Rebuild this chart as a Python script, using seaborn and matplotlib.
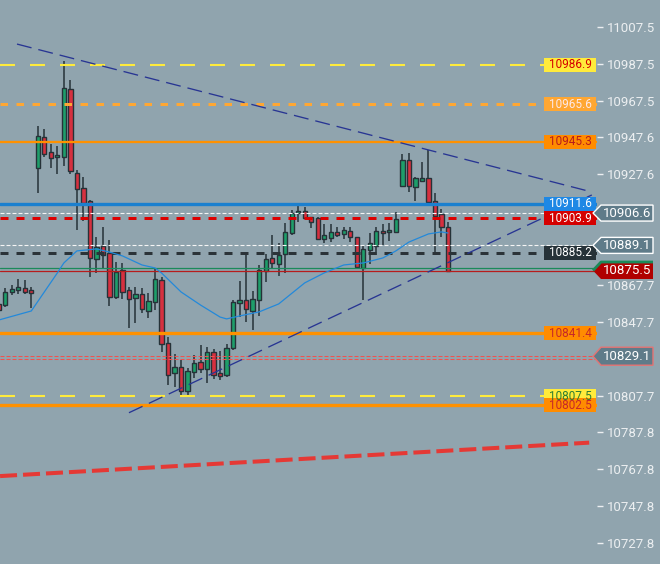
import matplotlib
matplotlib.use("Agg")
import matplotlib.pyplot as plt
from matplotlib.patches import Polygon, Rectangle
import numpy as np
import pandas as pd
import seaborn as sns

# candles, index -1 is the one cut off at the left edge
candle_idx = list(range(-1, 69))
opens = [10857.4, 10856.8, 10864.0, 10865.1, 10865.9, 10864.8, 10931.2, 10947.6, 10939.8, 10936.8,
         10936.8, 10973.6, 10928.1, 10920.0, 10913.1, 10881.6, 10888.6, 10884.8, 10861.3, 10875.8,
         10864.8, 10860.5, 10862.6, 10853.4, 10858.3, 10870.4, 10836.1, 10819.9, 10823.4, 10810.1,
         10820.4, 10825.8, 10822.0, 10831.6, 10819.9, 10818.8, 10833.4, 10857.8, 10859.4, 10853.8,
         10859.4, 10875.2, 10882.1, 10879.2, 10884.3, 10895.7, 10906.5, 10907.7, 10904.3, 10904.1,
         10892.7, 10893.3, 10896.2, 10895.4, 10896.7, 10893.5, 10877.1, 10886.6, 10888.6, 10896.9,
         10896.2, 10896.5, 10921.4, 10935.3, 10920.6, 10924.1, 10925.4, 10913.1, 10906.0, 10898.9]
highs = [10858.5, 10866.0, 10867.7, 10870.9, 10870.4, 10866.4, 10953.7, 10952.1, 10943.8, 10942.8,
         10988.9, 10978.7, 10929.8, 10926.1, 10913.7, 10893.7, 10899.1, 10892.0, 10880.1, 10879.6,
         10866.4, 10866.4, 10865.9, 10863.2, 10876.2, 10872.2, 10839.4, 10830.3, 10827.1, 10822.6,
         10829.9, 10835.2, 10834.3, 10832.9, 10831.8, 10835.7, 10859.5, 10869.8, 10884.7, 10864.4,
         10878.5, 10884.3, 10894.7, 10890.2, 10901.1, 10908.3, 10911.9, 10909.7, 10904.6, 10904.6,
         10900.7, 10900.5, 10898.9, 10898.9, 10898.9, 10893.8, 10889.3, 10895.8, 10899.1, 10900.7,
         10901.4, 10907.4, 10938.6, 10939.0, 10926.3, 10934.3, 10940.5, 10917.3, 10908.8, 10901.5]
lows = [10853.0, 10855.7, 10862.3, 10862.9, 10862.9, 10855.4, 10917.6, 10937.1, 10931.2, 10927.9,
        10932.1, 10927.6, 10897.3, 10902.5, 10872.2, 10874.3, 10876.7, 10856.3, 10859.9, 10860.1,
        10844.2, 10847.3, 10852.3, 10849.6, 10854.1, 10831.6, 10813.4, 10812.6, 10807.7, 10807.2,
        10817.2, 10819.9, 10814.8, 10816.6, 10816.2, 10817.7, 10832.5, 10850.5, 10847.8, 10843.3,
        10850.9, 10869.5, 10876.7, 10872.5, 10874.0, 10894.7, 10901.9, 10903.2, 10898.7, 10892.0,
        10890.2, 10891.1, 10893.5, 10892.6, 10891.1, 10876.7, 10859.5, 10879.0, 10883.9, 10889.3,
        10891.6, 10895.8, 10920.9, 10918.2, 10913.3, 10923.6, 10911.0, 10885.7, 10893.4, 10875.5]
closes = [10854.1, 10864.0, 10865.5, 10866.4, 10864.0, 10863.5, 10948.2, 10938.7, 10936.3, 10938.0,
          10974.2, 10929.2, 10919.5, 10912.2, 10882.1, 10888.4, 10883.7, 10861.3, 10874.9, 10864.0,
          10859.9, 10862.6, 10854.5, 10858.8, 10870.8, 10835.6, 10818.8, 10823.1, 10810.1, 10821.3,
          10825.3, 10822.0, 10831.6, 10818.8, 10818.2, 10833.4, 10858.3, 10859.4, 10854.5, 10859.9,
          10875.8, 10881.6, 10879.7, 10883.9, 10896.2, 10906.5, 10907.6, 10903.8, 10901.9, 10892.7,
          10894.6, 10896.2, 10894.9, 10897.4, 10893.8, 10877.6, 10887.0, 10890.2, 10896.8, 10895.7,
          10897.4, 10903.2, 10935.3, 10921.4, 10925.4, 10925.4, 10912.4, 10904.8, 10898.8, 10875.5]

# moving average
ma_idx = [-1, 4, 8, 9, 11, 14, 16, 18, 21, 23, 24, 27, 30, 33, 34, 36, 39, 42, 46, 49, 52, 55,
          58, 60, 62, 65, 67, 68]
ma_vals = [10848.7, 10853.6, 10874.2, 10879.6, 10886.1, 10887.2, 10885.5, 10883.4, 10878.5,
           10876.9, 10874.2, 10863.9, 10856.8, 10850.3, 10849.3, 10850.9, 10853.1, 10857.4,
           10868.8, 10874.2, 10878.5, 10879.6, 10882.3, 10886.1, 10890.9, 10895.3, 10896.4, 10895.8]

# trend lines
upper_trend_idx = [1.8, 89.8]
upper_trend_vals = [10998.1, 10918.3]
lower_trend_idx = [19.0, 90.1]
lower_trend_vals = [10798.5, 10916.4]
support_trend_idx = [-0.8, 89.7]
support_trend_vals = [10764.2, 10782.3]

# horizontal levels
yellow_levels = [10986.9, 10807.5]
light_orange_level = 10965.6
orange_top_level = 10945.3
orange_levels = [10841.4, 10802.5]
blue_level = 10911.6
red_level = 10903.9
dark_level = 10885.2
white_levels = [10906.6, 10889.1]
bid_price = 10875.5
ask_price = 10876.7
alert_levels = [10829.3, 10827.6]
alert_price = 10829.1

box_prices = [10986.9, 10965.6, 10945.3, 10911.6, 10903.9, 10885.2, 10841.4, 10807.5, 10802.5]
box_fill = ["#FFEB3B", "#FFA733", "#FF8C00", "#1E88E5", "#D50000", "#263238", "#FF8C00", "#FFEB3B", "#FF8C00"]
box_text = ["#D50000", "#FDE8E8", "#B71C1C", "white", "white", "white", "#C62828", "#2E7D32", "#C62828"]

tick_vals = [11007.5, 10987.5, 10967.5, 10947.6, 10927.6, 10867.7, 10847.7, 10807.7,
             10787.8, 10767.8, 10747.8, 10727.8]
tick_labels = ["11007.5", "10987.5", "10967.5", "10947.6", "10927.6", "10867.7", "10847.7",
               "10807.7", "10787.8", "10767.8", "10747.8", "10727.8"]

BG = "#90A4AE"
W, H = 660, 564
AX_W = 597
PX = 0.5414  # price per pixel


def dash(on_px, off_px, lw_pt):
    return (0, (on_px * 0.72 / lw_pt, off_px * 0.72 / lw_pt))


def fx(px):
    return px / AX_W


sns.set_theme(style="white", rc={"axes.facecolor": BG, "figure.facecolor": BG})
plt.rcParams["font.family"] = ["Roboto", "DejaVu Sans"]

fig = plt.figure(figsize=(W / 100, H / 100), dpi=100)
ax = fig.add_axes([0, 0, AX_W / W, 1])
ax.set_xlim(-0.81, 90.9)
ax.set_ylim(10716.6, 11021.96)
for s in ax.spines.values():
    s.set_visible(False)

df = pd.DataFrame({"idx": candle_idx, "open": opens, "high": highs, "low": lows, "close": closes})
up = df["close"] >= df["open"]
colors = np.where(up, "#1E9E6A", "#D6303F")
ax.vlines(df["idx"], df["low"], df["high"], color="#263238", lw=1.1, zorder=2)
body_h = (df["close"] - df["open"]).abs().clip(lower=1.0)
ax.bar(df["idx"], body_h, bottom=df[["open", "close"]].min(axis=1), width=0.66,
       color=colors, edgecolor="#263238", linewidth=1.0, zorder=2.5)

# levels
for lv in yellow_levels:
    ax.axhline(lv, color="#FFEB3B", lw=1.5, ls=dash(15, 15, 1.5), zorder=3)
ax.axhline(light_orange_level, color="#FFA733", lw=2.16, ls=dash(7.5, 8.5, 2.16), zorder=3)
ax.axhline(orange_top_level, color="#FF9100", lw=1.65, zorder=3)
for lv in orange_levels:
    ax.axhline(lv, color="#FF9100", lw=2.4, zorder=3)
ax.axhline(blue_level, color="#1B80CF", lw=2.4, zorder=3)
for lv in white_levels:
    ax.axhline(lv, color="#F5F5F5", lw=0.8, ls=dash(4, 2, 0.8), zorder=3)
ax.axhline(red_level, color="#DD0000", lw=2.16, ls=dash(8, 8, 2.16), zorder=3)
ax.axhline(dark_level, color="#2B3338", lw=2.16, ls=dash(8, 8, 2.16), zorder=3)
ax.axhline(ask_price, color="#1B8A5A", lw=0.9, zorder=3)
ax.axhline(bid_price, color="#B71C1C", lw=0.9, zorder=3)
for lv in alert_levels:
    ax.axhline(lv, color="#EF5350", lw=0.75, ls=dash(4, 2, 0.75), zorder=3)

# trend lines
ax.plot(upper_trend_idx, upper_trend_vals, color="#283593", lw=0.95, ls=dash(15, 7, 0.95), zorder=3)
ax.plot(lower_trend_idx, lower_trend_vals, color="#283593", lw=0.95, ls=dash(15, 7, 0.95), zorder=3)
ax.plot(support_trend_idx, support_trend_vals, color="#E53935", lw=2.9, ls=dash(17, 6, 2.9), zorder=3)

sns.lineplot(x=ma_idx, y=ma_vals, ax=ax, color="#2389DA", lw=0.9, zorder=3.5, sort=False)
ax.set_xlabel("")
ax.set_ylabel("")

# label boxes inside the chart
ytr = ax.get_yaxis_transform()
for p, fc, tc in zip(box_prices, box_fill, box_text):
    ax.add_patch(Rectangle((fx(544), p - 7 * PX), fx(52), 14 * PX, transform=ytr,
                           fc=fc, ec="none", zorder=5, clip_on=False))
    ax.text(fx(570), p, f"{p:.1f}", transform=ytr, ha="center", va="center",
            color=tc, fontsize=8.5, zorder=6)


def arrow_label(price, fill, edge, half=8, strip=None):
    h = half * PX
    pts = [(fx(593), price), (fx(601), price + h), (fx(653), price + h),
           (fx(653), price - h), (fx(601), price - h)]
    ax.add_patch(Polygon(pts, closed=True, transform=ytr, fc=fill, ec=edge, lw=1.0,
                         zorder=7, clip_on=False))
    if strip:
        ax.plot([fx(593), fx(601), fx(653)], [price, price + h, price + h], transform=ytr,
                color=strip, lw=2, zorder=8, clip_on=False, solid_capstyle="butt")
    ax.text(fx(627), price, f"{price:.1f}", transform=ytr, ha="center", va="center",
            color="white", fontsize=9.5, zorder=9, clip_on=False)


arrow_label(white_levels[0], "#5F7B89", "white")
arrow_label(white_levels[1], "#5F7B89", "white")
arrow_label(bid_price, "#B00000", "none", half=8.5, strip="#1B8A5A")
arrow_label(alert_price, "#5F7B89", "#E57373", half=9)

ax.set_xticks([])
ax.yaxis.tick_right()
ax.set_yticks(tick_vals)
ax.set_yticklabels(tick_labels)
ax.tick_params(axis="y", which="both", right=True, left=False, length=4, width=1,
               color="#ECEFF1", labelcolor="#ECEFF1", pad=3, labelsize=9.5)

fig.savefig("out.png", dpi=100, facecolor=BG)
